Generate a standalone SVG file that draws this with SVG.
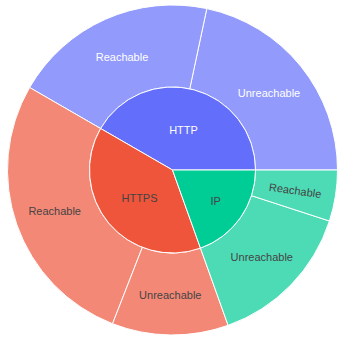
<svg xmlns="http://www.w3.org/2000/svg" width="338" height="338" viewBox="0 0 338 338">
<style>
.s{stroke:#fff;stroke-width:1}
.t{font-family:"Liberation Sans",Arial,sans-serif;font-size:11px;text-anchor:middle}
.w{fill:#fff}
.d{fill:#444}
</style>
<rect width="338" height="338" fill="#fff"/>
<g id="HTTP-Unreachable"><path class="s" fill="#929afc" d="M255.5,170 L337.5,170 A165,165 0 0 0 206.81,8.61 L189.76,88.81 A83,83 0 0 1 255.5,170 Z"/><text class="t w" x="269" y="96.7">Unreachable</text></g>
<g id="HTTP-Reachable"><path class="s" fill="#929afc" d="M189.76,88.81 L206.81,8.61 A165,165 0 0 0 29.61,87.5 L100.62,128.5 A83,83 0 0 1 189.76,88.81 Z"/><text class="t w" x="122" y="60.7">Reachable</text></g>
<g id="HTTPS-Reachable"><path class="s" fill="#f48876" d="M100.62,128.5 L29.61,87.5 A165,165 0 0 0 112.56,323.73 L142.35,247.33 A83,83 0 0 1 100.62,128.5 Z"/><text class="t d" x="54.7" y="215.3">Reachable</text></g>
<g id="HTTPS-Unreachable"><path class="s" fill="#f48876" d="M142.35,247.33 L112.56,323.73 A165,165 0 0 0 228.12,325.34 L200.48,248.14 A83,83 0 0 1 142.35,247.33 Z"/><text class="t d" x="170.3" y="299.3">Unreachable</text></g>
<g id="IP-Unreachable"><path class="s" fill="#4ddbb6" d="M200.48,248.14 L228.12,325.34 A165,165 0 0 0 329.42,220.99 L251.44,195.65 A83,83 0 0 1 200.48,248.14 Z"/><text class="t d" x="261.8" y="261.3">Unreachable</text></g>
<g id="IP-Reachable"><path class="s" fill="#4ddbb6" d="M251.44,195.65 L329.42,220.99 A165,165 0 0 0 337.5,170 L255.5,170 A83,83 0 0 1 251.44,195.65 Z"/><text class="t d" transform="translate(295.2,190.4) rotate(8)" x="0" y="4">Reachable</text></g>
<g id="HTTP"><path class="s" fill="#636efa" d="M172.5,170 L255.5,170 A83,83 0 0 0 100.62,128.5 Z"/><text class="t w" x="183.5" y="134">HTTP</text></g>
<g id="HTTPS"><path class="s" fill="#ef553b" d="M172.5,170 L100.62,128.5 A83,83 0 0 0 200.48,248.14 Z"/><text class="t d" x="139.5" y="202">HTTPS</text></g>
<g id="IP"><path class="s" fill="#00cc96" d="M172.5,170 L200.48,248.14 A83,83 0 0 0 255.5,170 Z"/><text class="t d" x="215.7" y="205.3">IP</text></g>
<g id="connectors"/>
</svg>
